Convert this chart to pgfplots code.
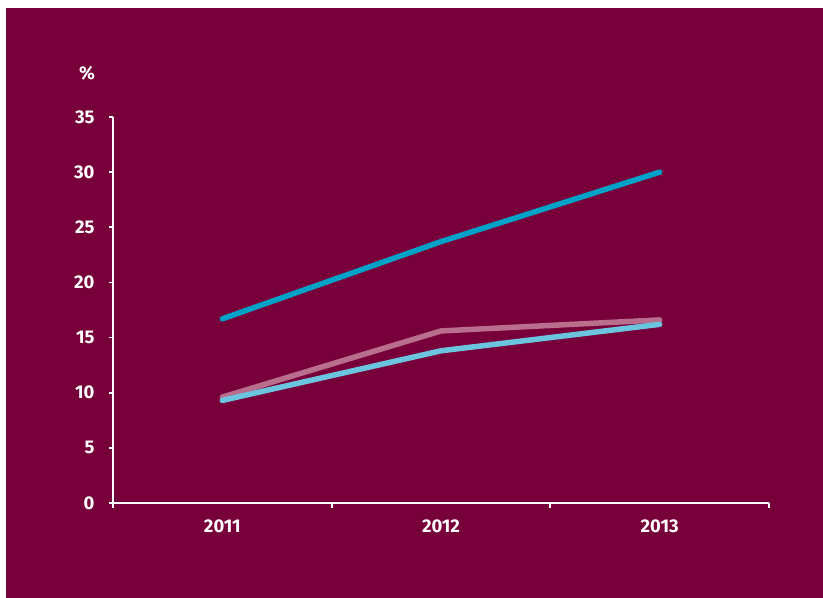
\documentclass[border=0pt]{standalone}
\usepackage{fontspec}
\setmainfont{Fira Sans}
\usepackage{pgfplots}
\pgfplotsset{compat=1.18}
\definecolor{bgmaroon}{HTML}{78003A}
\definecolor{darkblue}{HTML}{00A2C7}
\definecolor{pinkline}{HTML}{B86E8C}
\definecolor{lightblue}{HTML}{6CC5DF}
\begin{document}
\begin{tikzpicture}[x=1bp,y=1bp]
\fill[white] (-113,-95) rectangle (710,117+386);
\useasboundingbox (-113,-95) rectangle (710,117+386);
\fill[bgmaroon] (-107,-95) rectangle (710,495);
\begin{axis}[
  at={(0,0)}, anchor=south west,
  scale only axis, width=656bp, height=386bp,
  xmin=0, xmax=3, ymin=0, ymax=35,
  axis lines*=left,
  axis line style={white, line width=1.8bp},
  xtick={0.5,1.5,2.5}, xticklabels={2011,2012,2013},
  minor xtick={0,1,2,3},
  ytick={0,5,...,35},
  tick align=outside,
  major x tick style={draw=none},
  minor x tick style={white, line width=1.8bp},
  minor tick length=5bp,
  major tick length=4bp,
  y tick style={white, line width=1.8bp},
  tick label style={font=\fontsize{18.5}{21}\selectfont\bfseries, text=white},
  /pgf/number format/assume math mode=true,
  yticklabel style={xshift=-11bp},
  xticklabel style={yshift=-9bp},
  clip=false,
]
\addplot[darkblue, line width=5.5bp, line cap=round, line join=round] coordinates {(0.5,16.7) (1.5,23.7) (2.5,30.0)};
\addplot[pinkline, line width=5.5bp, line cap=round, line join=round] coordinates {(0.5,9.6) (1.5,15.6) (2.5,16.6)};
\addplot[lightblue, line width=5.5bp, line cap=round, line join=round] coordinates {(0.5,9.3) (1.5,13.8) (2.5,16.2)};
\end{axis}
\node[text=white, font=\fontsize{18.5}{21}\selectfont\bfseries] at (-26,430) {\%};
\end{tikzpicture}
\end{document}
